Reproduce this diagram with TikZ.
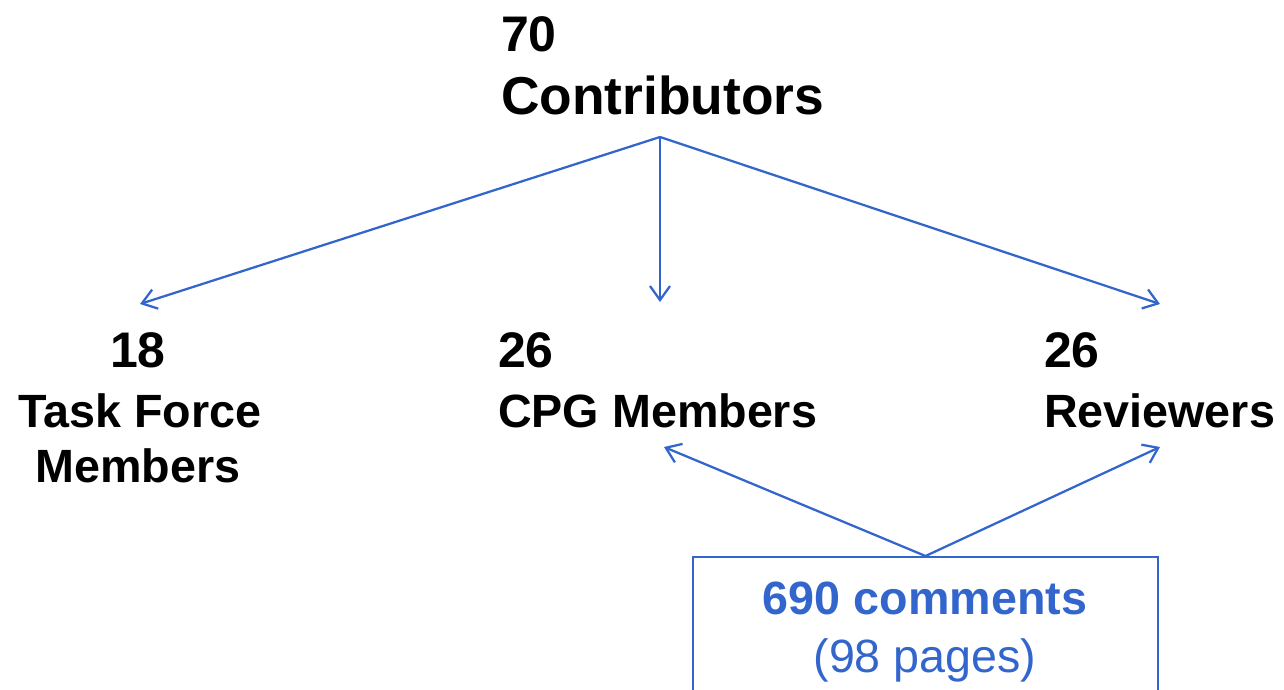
\documentclass[tikz,border=0pt]{standalone}
\usepackage{fontspec}
\setmainfont{Liberation Sans}
\usetikzlibrary{arrows.meta}

\definecolor{linkblue}{RGB}{51,102,204}

\begin{document}
\begin{tikzpicture}[x=0.75pt,y=-0.75pt,->,>={Straight Barb[length=10.5pt,width=15pt]},
	line width=1.7pt,
	big/.style={inner sep=0pt,font=\fontsize{40}{46}\selectfont\bfseries},
	count/.style={inner sep=0pt,font=\fontsize{37.5}{44}\selectfont\bfseries},
	label/.style={inner sep=0pt,font=\fontsize{35}{42}\selectfont\bfseries},
	frame/.style={draw=linkblue,line width=1.7pt,minimum width=348.75pt,minimum height=150pt,inner sep=0pt}]
	
	\useasboundingbox (0,0) rectangle (1284,689);
	\clip (0,0) rectangle (1284,689);
	
	% top of the tree
	\node[count,anchor=base west] (n70) at (500,51) {70};
	\node[big,anchor=base west] (contrib) at (500,114) {Contributors};
	
	% the three groups
	\node[count,anchor=base] (n18) at (138,367) {18};
	\node[label,anchor=base] (tf) at (140,427) {Task Force};
	\node[label,anchor=base] (tfm) at (138,482) {Members};
	
	\node[count,anchor=base west] (n26a) at (497,367) {26};
	\node[label,anchor=base west] (cpg) at (497,427) {CPG Members};
	
	\node[count,anchor=base west] (n26b) at (1043,367) {26};
	\node[label,anchor=base west] (rev) at (1043,427) {Reviewers};
	
	% comments box, runs off the bottom
	\node[frame,anchor=north,-] (box) at (925.5,556) {};
	\node[label,anchor=base,text=linkblue] (cmt) at (925,614) {690 comments};
	\node[label,anchor=base,text=linkblue,font=\fontsize{35}{42}\selectfont] (pages) at (925,672) {(98 pages)};
	
	\coordinate (fan) at (660,137);
	\coordinate (tfin) at (140,304);
	\coordinate (cpgin) at (660,302);
	\coordinate (revin) at (1160,304);
	\coordinate (cpgup) at (664,447);
	\coordinate (revup) at (1160,447);
	
	\path[color=linkblue]
	(fan) edge (tfin)
	edge (cpgin)
	edge (revin)
	(box.north) edge (cpgup)
	edge (revup);
	
\end{tikzpicture}
\end{document}
